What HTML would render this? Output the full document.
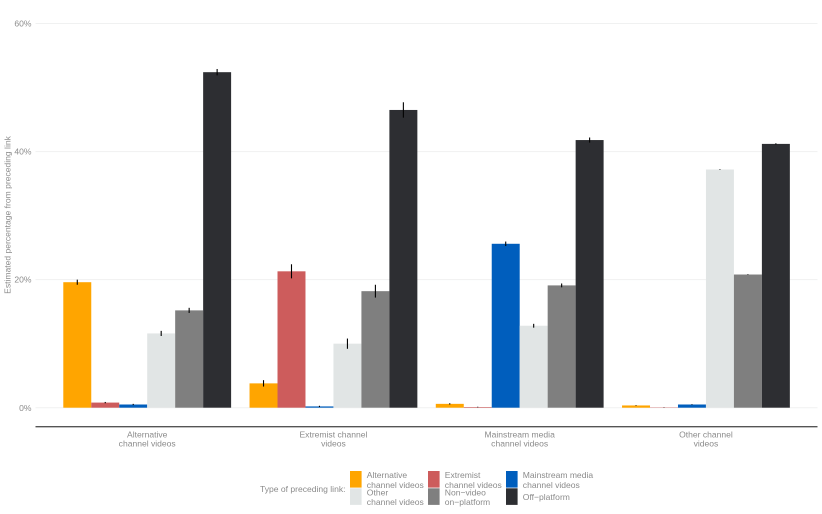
<!DOCTYPE html>
<html lang="en">
<head>
<meta charset="utf-8">
<title>Estimated percentage from preceding link</title>
<style>
html,body{margin:0;padding:0;background:#fff;width:822px;height:514px;overflow:hidden}
svg{display:block;font-family:"Liberation Sans",Arial,sans-serif}
text{fill:#8b8b8b;font-size:8.55px}
</style>
</head>
<body>
<svg id="chart" width="822" height="514" viewBox="0 0 822 514" xmlns="http://www.w3.org/2000/svg">
  <text transform="translate(10.7,215) rotate(-90)" text-anchor="middle">Estimated percentage from preceding link</text>
  <g id="grid"></g>
  <g id="bars"></g>
  <g id="errors"></g>
  <line x1="35.5" x2="817.5" y1="426.7" y2="426.7" stroke="#555" stroke-width="1.3"/>
  <g id="xlabels"></g>
  <g>
    <text x="345.5" y="492" text-anchor="end">Type of preceding link:</text>
    <g id="legend-items"></g>
  </g>
</svg>
<script>
const categories = [["Alternative","channel videos"],["Extremist channel","videos"],["Mainstream media","channel videos"],["Other channel","videos"]];
const seriesNames = ["Alternative channel videos","Extremist channel videos","Mainstream media channel videos","Other channel videos","Non-video on-platform","Off-platform"];
const seriesColors = ["#ffa500","#cd5c5c","#005ebd","#e1e5e5","#7f7f7f","#2d2e32"];
const alternativeValues = [19.6,3.8,0.6,0.35];
const extremistValues = [0.8,21.3,0.1,0.05];
const mainstreamValues = [0.5,0.2,25.6,0.5];
const otherValues = [11.6,10.0,12.8,37.2];
const nonVideoValues = [15.2,18.2,19.1,20.8];
const offPlatformValues = [52.4,46.5,41.8,41.2];
const alternativeErrors = [0.4,0.5,0.1,0.05];
const extremistErrors = [0.1,1.1,0.05,0.03];
const mainstreamErrors = [0.1,0.1,0.35,0.05];
const otherErrors = [0.4,0.8,0.3,0.05];
const nonVideoErrors = [0.4,1.0,0.3,0.05];
const offPlatformErrors = [0.5,1.2,0.4,0.1];
const yTicks = [0,20,40,60];
const legendLabels = [["Alternative","channel videos"],["Extremist","channel videos"],["Mainstream media","channel videos"],["Other","channel videos"],["Non\u2212video","on\u2212platform"],["Off\u2212platform"]];

const NS = "http://www.w3.org/2000/svg";
const allValues = [alternativeValues,extremistValues,mainstreamValues,otherValues,nonVideoValues,offPlatformValues];
const allErrors = [alternativeErrors,extremistErrors,mainstreamErrors,otherErrors,nonVideoErrors,offPlatformErrors];
const yScale = v => 407.7 - v * 6.403;
const groupCenter = i => 147.2 + i * 186.25;
const barWidth = 27.97;
const barLeft = (g, s) => groupCenter(g) - 3 * barWidth + s * barWidth;
function make(tag, attrs, parent, text) {
  const el = document.createElementNS(NS, tag);
  for (const k in attrs) el.setAttribute(k, attrs[k]);
  if (text !== undefined) el.textContent = text;
  parent.appendChild(el);
  return el;
}
const grid = document.getElementById("grid");
yTicks.forEach(t => {
  const line = make("line", {x1:35.5, x2:817.5, y1:yScale(t), y2:yScale(t), stroke:"#f0f1f1", "stroke-width":1}, grid);
  
  
  const label = make("text", {x:31.5, y:yScale(t)+3.1, "text-anchor":"end"}, grid, t + "%");
  
  
});
const bars = document.getElementById("bars");
const errors = document.getElementById("errors");
categories.forEach((c, g) => {
  allValues.forEach((vals, s) => {
    const bar = make("rect", {x:barLeft(g,s), y:yScale(vals[g]), width:barWidth, height:yScale(0)-yScale(vals[g]), fill:seriesColors[s]}, bars);
    
    
    const cx = barLeft(g,s) + barWidth/2;
    const err = make("line", {x1:cx, x2:cx, y1:yScale(vals[g]-allErrors[s][g]), y2:yScale(vals[g]+allErrors[s][g]), stroke:"#000", "stroke-width":1.1}, errors);
    
    
  });
});
const xlabels = document.getElementById("xlabels");
categories.forEach((c, g) => {
  c.forEach((ln, i) => {
    const t = make("text", {x:groupCenter(g), y:437.5+i*9.2, "text-anchor":"middle"}, xlabels, ln);
    
    
  });
});
const legendItems = document.getElementById("legend-items");
const legendX = [350, 428, 506];
const legendY = [471, 488.3];
legendLabels.forEach((lines, i) => {
  const col = i % 3, row = Math.floor(i / 3);
  const sw = make("rect", {x:legendX[col], y:legendY[row], width:11.6, height:16.6, fill:seriesColors[i]}, legendItems);
  
  
  const x = legendX[col] + 16.8;
  const ys = lines.length === 1 ? [legendY[row] + 11.6] : [legendY[row] + 7, legendY[row] + 16.8];
  lines.forEach((ln, j) => {
    const t = make("text", {x:x, y:ys[j]}, legendItems, ln);
    
    
  });
});
</script>
</body>
</html>
